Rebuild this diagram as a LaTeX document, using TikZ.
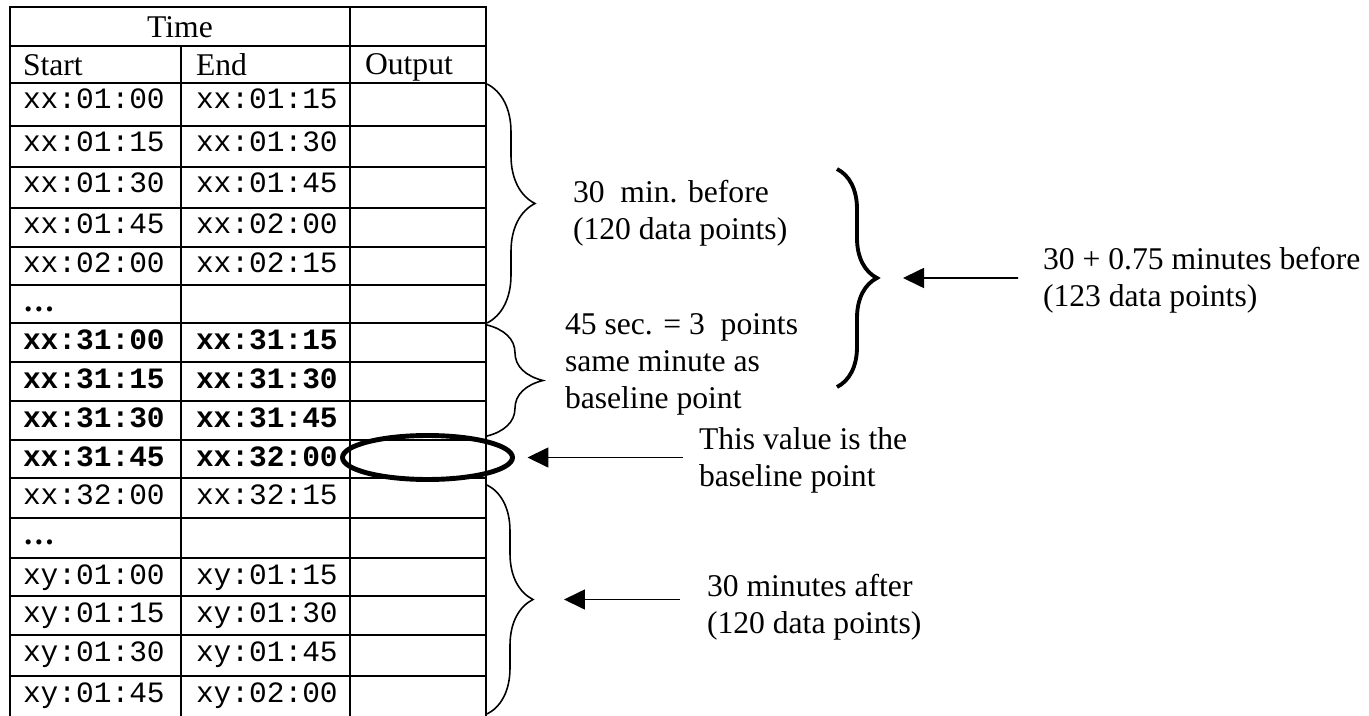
\documentclass[tikz,border=0pt]{standalone}
\usepackage{fontspec}
\setmainfont{Liberation Serif}
\setmonofont{Liberation Mono}
\usetikzlibrary{arrows.meta, calc, decorations.pathreplacing, shapes.geometric}

\begin{document}
\begin{tikzpicture}[x=0.02cm, y=-0.02cm,
  every node/.style={inner sep=0pt, outer sep=0pt},
  head/.style={anchor=base west, font=\fontsize{18}{21}\selectfont},
  stamp/.style={anchor=base west, font=\ttfamily\fontsize{16.8}{20}\selectfont},
  note/.style={anchor=base west, align=left, font=\fontsize{18}{21}\selectfont},
  rule/.style={line width=1.1pt, line cap=rect},
  curly/.style={decorate, decoration={brace, amplitude=#1}, line width=0.9pt},
  arr/.style={-{Triangle[length=0.42cm, width=0.4cm]}, line width=0.95pt}
]
  \useasboundingbox (0,0) rectangle (1369,716);

  % table grid
  \draw[rule] (10,7) -- (486,7);
  \foreach \y in {46,83,126,167,208,247,285,323,362,401,440,478,518,558,596,635,676}
    \draw[rule] (10,\y) -- (486,\y);
  \foreach \x in {10,350,486}
    \draw[rule] (\x,7) -- (\x,716);
  \draw[rule] (181,46) -- (181,716);

  % header
  \node[head, anchor=base] (time)   at (180,37.5) {Time};
  \node[head]              (start)  at (23,76)    {Start};
  \node[head]              (end)    at (196,76)   {End};
  \node[head]              (output) at (365,75)   {Output};

  % time slots
  \foreach \y/\s/\e [count=\i] in {83/xx:01:00/xx:01:15, 126/xx:01:15/xx:01:30,
      167/xx:01:30/xx:01:45, 208/xx:01:45/xx:02:00, 247/xx:02:00/xx:02:15,
      478/xx:32:00/xx:32:15, 558/xy:01:00/xy:01:15, 596/xy:01:15/xy:01:30,
      635/xy:01:30/xy:01:45, 676/xy:01:45/xy:02:00} {
    \node[stamp] (s\i) at (23,\y+26)  {\s};
    \node[stamp] (e\i) at (196,\y+26) {\e};
  }
  \foreach \y/\s/\e [count=\i] in {323/xx:31:00/xx:31:15, 362/xx:31:15/xx:31:30,
      401/xx:31:30/xx:31:45, 440/xx:31:45/xx:32:00} {
    \node[stamp] (bs\i) at (23,\y+26)  {\textbf{\s}};
    \node[stamp] (be\i) at (196,\y+26) {\textbf{\e}};
  }
  \node[head] (gap1) at (23,311) {\bfseries …};
  \node[head] (gap2) at (23,544) {\bfseries …};

  % baseline cell
  \node[ellipse, draw, line width=2.8pt, minimum width=3.4cm, minimum height=0.88cm]
    (basecell) at (427.5,457.5) {};

  % braces
  \coordinate (beforetop) at (487,84);
  \coordinate (beforebot) at (487,323);
  \coordinate (sametop)   at (487,325);
  \coordinate (samebot)   at (487,436);
  \coordinate (aftertop)  at (487,485);
  \coordinate (afterbot)  at (487,714);
  \coordinate (alltop)    at (837,169);
  \coordinate (allbot)    at (837,387);
  \draw[curly=0.96cm] (beforetop) -- (beforebot);
  \draw[curly=1.12cm] (sametop) -- (samebot);
  \draw[curly=0.92cm] (aftertop) -- (afterbot);
  \draw[curly=0.8cm, line width=2.2pt] (alltop) -- (allbot);
  \coordinate (aftertip) at ($(aftertop)!0.5!(afterbot)+(46,0)$);
  \coordinate (alltip)   at ($(alltop)!0.5!(allbot)+(40,0)$);

  % notes (placed by the baseline of their last line)
  \node[note] (beforenote) at (573,239)  {30\ \ min. before\\(120 data points)};
  \node[note] (samenote)   at (565,408)  {45 sec. = 3\ \ points\\same minute as\\baseline point};
  \node[note] (basenote)   at (699,486)  {This value is the\\baseline point};
  \node[note] (afternote)  at (707,633)  {30 minutes after\\(120 data points)};
  \node[note] (sumnote)    at (1043,306) {30 + 0.75 minutes before\\(123 data points)};

  \coordinate (basetail)  at (683,457.5);
  \coordinate (aftertail) at (680,599.5);
  \coordinate (sumtail)   at (1018,278);
  \draw[arr, shorten >=0.3cm]  (basetail)  -- (basecell.east);
  \draw[arr, shorten >=0.62cm] (aftertail) -- (aftertip);
  \draw[arr, shorten >=0.52cm] (sumtail)   -- (alltip);
\end{tikzpicture}
\end{document}
